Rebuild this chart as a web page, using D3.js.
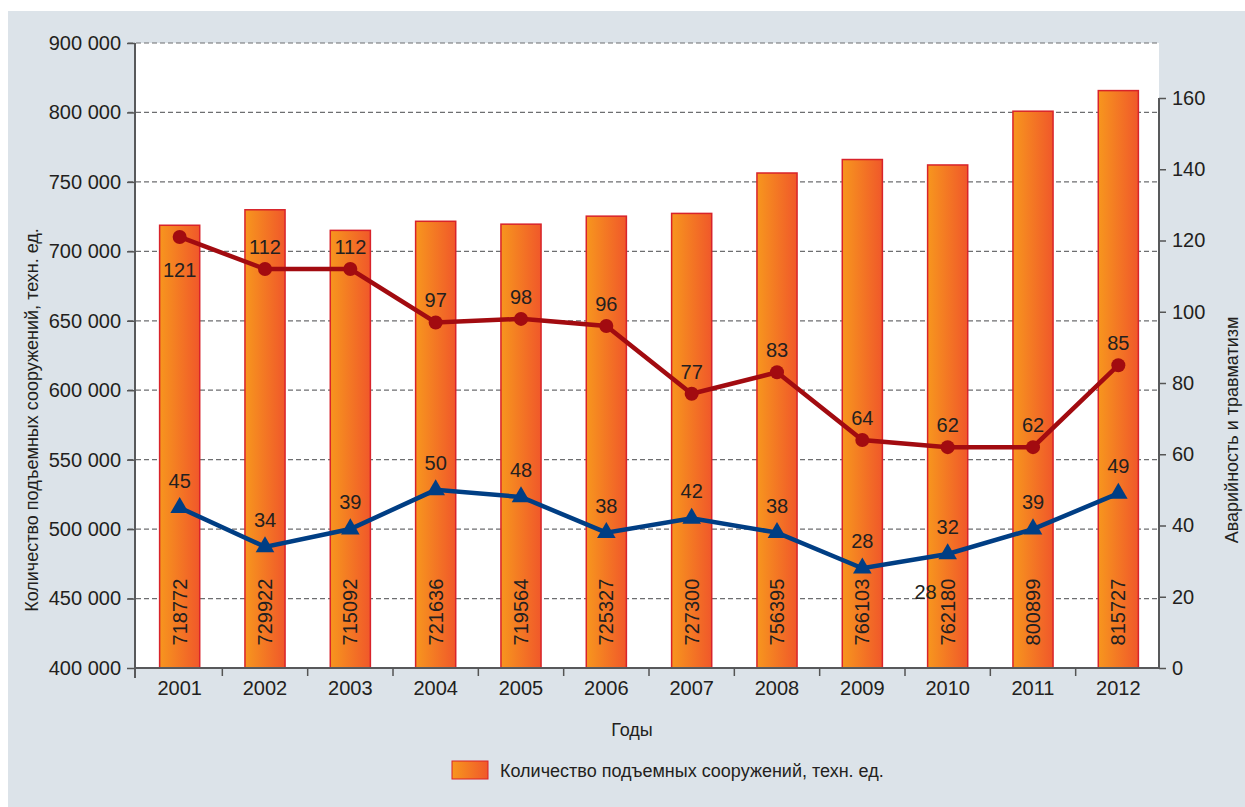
<!DOCTYPE html>
<html><head><meta charset="utf-8">
<script src="https://cdn.jsdelivr.net/npm/d3@7"></script>
<style>
html,body{margin:0;padding:0;background:#fff;}
text{font-family:"Liberation Sans Narrow","Liberation Sans",Arial,sans-serif;fill:#231f20;}
</style></head>
<body>
<svg id="chart" width="1245" height="807"></svg>
<script>
const years = ["2001","2002","2003","2004","2005","2006","2007","2008","2009","2010","2011","2012"];
const lifts = [718772,729922,715092,721636,719564,725327,727300,756395,766103,762180,800899,815727];
const accidents = [121,112,112,97,98,96,77,83,64,62,62,85];
const injuries = [45,34,39,50,48,38,42,38,28,32,39,49];
const leftTickValues = [400000,450000,500000,550000,600000,650000,700000,750000,800000,850000];
const leftTickLabels = ["400 000","450 000","500 000","550 000","600 000","650 000","700 000","750 000","800 000","900 000"];
const rightTickValues = [0,20,40,60,80,100,120,140,160];
const strayLabel = {year:"2010", text:"28"};
const leftTitle = "Количество подъемных сооружений, техн. ед.";
const rightTitle = "Аварийность и травматизм";
const xTitle = "Годы";
const legendText = "Количество подъемных сооружений, техн. ед.";

const svg = d3.select("#chart");
const L = 135, R = 1159, T = 43, B = 668;
const FONT = '"Liberation Sans Narrow","Liberation Sans",Arial,sans-serif';

svg.append("rect").attr("x",8).attr("y",11).attr("width",1237).attr("height",796).attr("fill","#dce3e9");
svg.append("rect").attr("x",L).attr("y",T).attr("width",R-L).attr("height",B-T).attr("fill","#fff");

const defs = svg.append("defs");
const g = defs.append("linearGradient").attr("id","barGrad").attr("x1","0").attr("x2","1").attr("y1","0").attr("y2","0");
g.append("stop").attr("offset","0%").attr("stop-color","#f7961e");
g.append("stop").attr("offset","100%").attr("stop-color","#f0582a");

const x = d3.scaleBand().domain(years).range([L+2, R+2]).paddingInner(0.53).paddingOuter(0.265);
const yL = d3.scaleLinear().domain([400000,850000]).range([B,T]);
const yR = d3.scaleLinear().domain([0,160]).range([B,98]);

// gridlines
svg.append("g").selectAll("line").data(leftTickValues.slice(1)).join("line")
  .attr("x1",L-7).attr("x2",R).attr("y1",d=>yL(d)).attr("y2",d=>yL(d))
  .attr("stroke","#6d6e70").attr("stroke-width",1.2).attr("stroke-dasharray","5,3");

// bars
svg.append("g").selectAll("rect").data(years).join("rect")
  .attr("x",d=>x(d)).attr("width",x.bandwidth())
  .attr("y",(d,i)=>yL(lifts[i])).attr("height",(d,i)=>B-yL(lifts[i]))
  .attr("fill","url(#barGrad)").attr("stroke","#d8232a").attr("stroke-width",1.5);

// bar labels
svg.append("g").selectAll("text").data(years).join("text")
  .attr("transform",d=>`translate(${x(d)+x.bandwidth()/2+7},612) rotate(-90)`)
  .attr("text-anchor","middle").attr("font-size",20).text((d,i)=>lifts[i]);

// axes
const axL = svg.append("g").attr("transform",`translate(${L},0)`)
  .call(d3.axisLeft(yL).tickValues(leftTickValues).tickFormat((d,i)=>leftTickLabels[i]).tickSize(8).tickSizeOuter(0));
axL.select(".domain").remove();
axL.selectAll("line").attr("stroke","#555").attr("stroke-width",1.5);
axL.selectAll("text").attr("font-size",20).attr("x",-14).attr("fill","#231f20").style("font-family",FONT);
svg.append("line").attr("x1",L).attr("x2",L).attr("y1",T).attr("y2",B+10).attr("stroke","#58595b").attr("stroke-width",2);

const axR = svg.append("g").attr("transform",`translate(${R},0)`)
  .call(d3.axisRight(yR).tickValues(rightTickValues).tickSize(7).tickSizeOuter(0));
axR.select(".domain").remove();
axR.selectAll("line").attr("stroke","#555").attr("stroke-width",1.5);
axR.selectAll("text").attr("font-size",20).attr("x",13).attr("fill","#231f20").style("font-family",FONT);
svg.append("line").attr("x1",R).attr("x2",R).attr("y1",yR(160)).attr("y2",B+1).attr("stroke","#58595b").attr("stroke-width",2);

// x axis
svg.append("line").attr("x1",L).attr("x2",R).attr("y1",B).attr("y2",B).attr("stroke","#58595b").attr("stroke-width",2);
const bounds = years.slice(1).map(d=>x(d)-x.step()*x.paddingInner()/2);
svg.append("g").selectAll("line").data(bounds).join("line")
  .attr("x1",d=>d).attr("x2",d=>d).attr("y1",B).attr("y2",B+8).attr("stroke","#555").attr("stroke-width",1.5);
svg.append("g").selectAll("text").data(years).join("text")
  .attr("x",d=>x(d)+x.bandwidth()/2).attr("y",B+27).attr("text-anchor","middle").attr("font-size",20).text(d=>d);

// red line
const lineR = d3.line().x((d,i)=>x(years[i])+x.bandwidth()/2).y(d=>yR(d));
svg.append("path").datum(accidents).attr("d",lineR).attr("fill","none").attr("stroke","#a20b10").attr("stroke-width",4.5);
svg.append("g").selectAll("circle").data(accidents).join("circle")
  .attr("cx",(d,i)=>x(years[i])+x.bandwidth()/2).attr("cy",d=>yR(d)).attr("r",7).attr("fill","#a20b10");
svg.append("g").selectAll("text").data(accidents).join("text")
  .attr("x",(d,i)=>x(years[i])+x.bandwidth()/2).attr("y",(d,i)=>i===0?yR(d)+40:yR(d)-15)
  .attr("text-anchor","middle").attr("font-size",20).text(d=>d);

// blue line
svg.append("path").datum(injuries).attr("d",lineR).attr("fill","none").attr("stroke","#003e84").attr("stroke-width",4.5);
const tri = d3.symbol().type(d3.symbolTriangle).size(150);
svg.append("g").selectAll("path").data(injuries).join("path")
  .attr("d",tri).attr("transform",(d,i)=>`translate(${x(years[i])+x.bandwidth()/2},${yR(d)})`).attr("fill","#003e84");
svg.append("g").selectAll("text").data(injuries).join("text")
  .attr("x",(d,i)=>x(years[i])+x.bandwidth()/2).attr("y",d=>yR(d)-20)
  .attr("text-anchor","middle").attr("font-size",20).text(d=>d);
svg.append("text").attr("x",x(strayLabel.year)-2).attr("y",yR(20)+2).attr("text-anchor","middle").attr("font-size",20).text(strayLabel.text);

// titles
svg.append("text").attr("transform","translate(38,420) rotate(-90)").attr("text-anchor","middle").attr("font-size",18).text(leftTitle);
svg.append("text").attr("transform","translate(1238,430) rotate(-90)").attr("text-anchor","middle").attr("font-size",18).text(rightTitle);
svg.append("text").attr("x",632).attr("y",736).attr("text-anchor","middle").attr("font-size",18).text(xTitle);

// legend
svg.append("rect").attr("x",452).attr("y",761).attr("width",36).attr("height",18).attr("fill","url(#barGrad)").attr("stroke","#d8232a").attr("stroke-width",1);
svg.append("text").attr("x",500).attr("y",777).attr("font-size",18).text(legendText);
</script>
</body></html>
